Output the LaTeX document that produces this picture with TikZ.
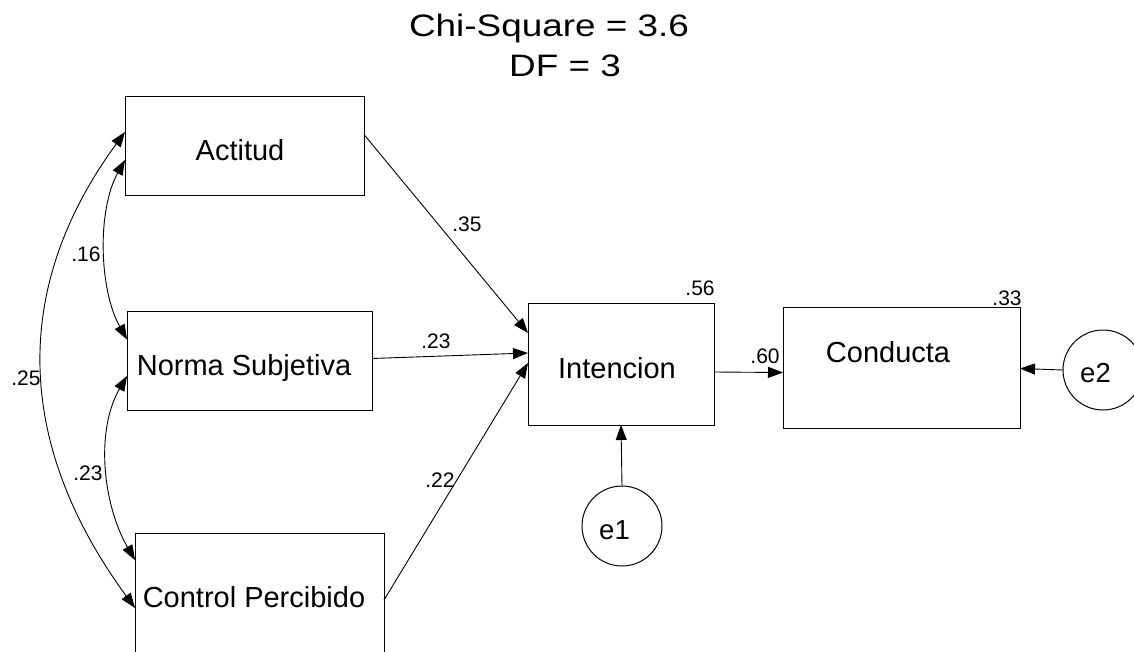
\documentclass[tikz,border=0pt]{standalone}
\usepackage{fontspec}
\setmainfont{Liberation Sans}
\usetikzlibrary{arrows.meta}
\begin{document}
\begin{tikzpicture}[x=1pt,y=-1pt,
  every node/.style={inner sep=0pt, outer sep=0pt},
  varbox/.style={draw, line width=1pt},
  errc/.style={draw, circle, line width=1pt},
  vname/.style={font=\fontsize{29}{31}\selectfont, anchor=base},
  ename/.style={font=\fontsize{27.5}{30}\selectfont, anchor=base},
  coef/.style={font=\fontsize{21}{23}\selectfont},
  ttl/.style={font=\fontsize{31}{34}\selectfont, anchor=base},
  tip/.style={-{Triangle[length=15pt,width=11pt]}},
  dtip/.style={{Triangle[length=15pt,width=11pt]}-{Triangle[length=15pt,width=11pt]}},
  path/.style={line width=0.9pt}]
\useasboundingbox (0,0) rectangle (1134,652);
\clip (0,0) rectangle (1134,652);

% fit statistics
\node[ttl] (chi) at (549,37) {\scalebox{1.19}[1]{Chi-Square = 3.6}};
\node[ttl] (df) at (565,77) {\scalebox{1.19}[1]{DF = 3}};

% observed variables
\node[varbox, minimum width=239pt, minimum height=99pt] (act) at (244.5,146.5) {};
\node[varbox, minimum width=245pt, minimum height=99pt] (nor) at (249.5,360.5) {};
\node[varbox, minimum width=249pt, minimum height=128pt] (con) at (259.5,597) {};
\node[varbox, minimum width=186pt, minimum height=122pt] (int) at (621,364) {};
\node[varbox, minimum width=237pt, minimum height=121pt] (cond) at (901.5,367.5) {};

\node[vname] (actT) at (240,161) {Actitud};
\node[vname] (norT) at (244,375) {Norma Subjetiva};
\node[vname] (conT) at (254,607) {Control Percibido};
\node[vname] (intT) at (617,378) {Intencion};
\node[vname] (condT) at (888,362) {Conducta};

% error terms
\node[errc, minimum size=80pt] (e1) at (622,526) {};
\node[errc, minimum size=80pt] (e2) at (1103,370) {};
\node[ename] (e1T) at (614.5,539) {e1};
\node[ename] (e2T) at (1095.5,382) {e2};

% regression paths
\draw[path, tip] ([yshift=12pt]act.east) -- ([yshift=31pt]int.west);
\draw[path, tip] ([yshift=2pt]nor.east) -- ([yshift=11pt]int.west);
\draw[path, tip] ([yshift=-3pt]con.east) -- ([yshift=1pt]int.west);
\draw[path, tip] ([yshift=-8pt]int.east) -- ([yshift=-5pt]cond.west);
\draw[path, tip] (e1.north) -- (int.south);
\draw[path, tip] (e2.west) -- ([yshift=-1pt]cond.east);

% covariances
\draw[path, dtip] ([yshift=-13.5pt]act.west) .. controls +(-28,50) and +(-28,-50) .. ([yshift=21pt]nor.west);
\draw[path, dtip] ([yshift=-15.5pt]nor.west) .. controls +(-32,55) and +(-32,-55) .. ([yshift=37pt]con.west);
\draw[path, dtip] ([yshift=14.5pt]act.west) .. controls +(-117,160) and +(-117,-160) .. ([yshift=-11pt]con.west);

% coefficients
\node[coef] (c35) at (467,224) {.35};
\node[coef] (c23a) at (436,341) {.23};
\node[coef] (c22) at (440,480) {.22};
\node[coef] (c60) at (765,356) {.60};
\node[coef] (c56) at (700,288) {.56};
\node[coef] (c33) at (1007,298) {.33};
\node[coef] (c16) at (86,254) {.16};
\node[coef] (c25) at (26,378) {.25};
\node[coef] (c23b) at (88,473) {.23};
\end{tikzpicture}
\end{document}
